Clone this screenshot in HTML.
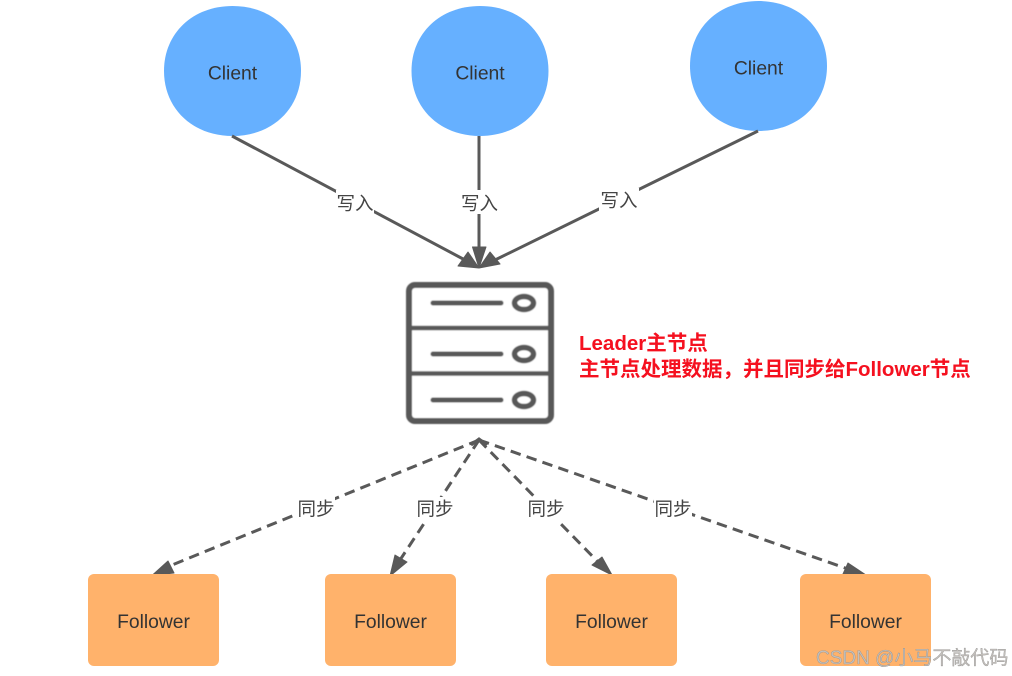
<!DOCTYPE html>
<html><head><meta charset="utf-8"><style>
html,body{margin:0;padding:0;background:#fff}
svg{display:block}
text{font-family:"Liberation Sans","Noto Sans CJK SC",sans-serif}
.n{font-size:19.300px;fill:#333;text-anchor:middle}
.l{font-size:18.500px;fill:#444;text-anchor:middle}
.r{font-size:20.500px;font-weight:bold;fill:#f5101f}
.s{stroke:#595959;stroke-width:3;fill:none}
.d{stroke:#595959;stroke-width:3;fill:none;stroke-dasharray:10.500 6.300}
.a{fill:#595959;stroke:#595959;stroke-width:1;stroke-linejoin:round}
.b{fill:#fff;stroke:none}
</style></head><body>
<svg width="1012" height="676" viewBox="0 0 1012 676" xmlns="http://www.w3.org/2000/svg">
<defs>
<path id="blob" d="M68.500 0C108 0 137 27 137 65C137 103 108 130 68.500 130C29 130 0 103 0 65C0 27 29 0 68.500 0Z" fill="#66b0ff"/>
<filter id="soft" x="-5%" y="-5%" width="110%" height="110%"><feGaussianBlur stdDeviation="0.600"/></filter>
</defs>
<use href="#blob" x="164" y="6"/><use href="#blob" x="411.500" y="6"/><use href="#blob" x="690" y="1"/>
<text class="n" x="232.500" y="79.500">Client</text><text class="n" x="480" y="79.500">Client</text><text class="n" x="758.500" y="74.500">Client</text>

<path class="s" d="M232 136L465 260M479 136V250M758 131L495 260"/>
<path class="a" d="M479 268L458 266L468 252ZM479 268L472.500 247H486ZM479 268L490 252L500 264Z"/>
<rect class="b" x="336" y="190" width="38" height="24"/><rect class="b" x="460" y="190" width="38" height="24"/><rect class="b" x="599" y="188" width="40" height="24"/>
<text class="l" x="355" y="210">写入</text><text class="l" x="479.500" y="210">写入</text><text class="l" x="619" y="207">写入</text>

<g filter="url(#soft)">
<rect x="409" y="285" width="142" height="136" rx="6" fill="#fff" stroke="#595959" stroke-width="6"/>
<path d="M409 328H551M409 373.500H551" stroke="#595959" stroke-width="4.500" fill="none"/>
<path d="M433 303H501M433 354H501M433 400H501" stroke="#595959" stroke-width="5" stroke-linecap="round" fill="none"/>
<g fill="#fff" stroke="#595959" stroke-width="5.500"><ellipse cx="524" cy="303" rx="9.500" ry="6.500"/><ellipse cx="524" cy="354" rx="9.500" ry="6.500"/><ellipse cx="524" cy="400" rx="9.500" ry="6.500"/></g>
</g>

<text class="r" x="579" y="350">Leader主节点</text>
<text class="r" x="579" y="376">主节点处理数据，并且同步给Follower节点</text>

<path class="d" d="M479 440L172 565M479 440L400 560M479 440L600 564M479 440L848 569"/>
<path class="s" d="M471 445L479 439L487 445"/>
<path class="a" d="M152 575.500L168 561L174 573ZM390 576L395 555L407 562ZM612 575L592 565L602 557ZM866 575L843 574L848 563Z"/>
<rect class="b" x="297" y="497" width="38" height="24"/><rect class="b" x="416" y="497" width="38" height="24"/><rect class="b" x="527" y="497" width="38" height="24"/><rect class="b" x="654" y="497" width="38" height="24"/>
<text class="l" x="316" y="515.500">同步</text><text class="l" x="435" y="515.500">同步</text><text class="l" x="546" y="515.500">同步</text><text class="l" x="673" y="515.500">同步</text>

<g fill="#ffb26b"><rect x="88" y="574" width="131" height="92" rx="6"/><rect x="325" y="574" width="131" height="92" rx="6"/><rect x="546" y="574" width="131" height="92" rx="6"/><rect x="800" y="574" width="131" height="92" rx="6"/></g>
<text class="n" x="153.500" y="628">Follower</text><text class="n" x="390.500" y="628">Follower</text><text class="n" x="611.500" y="628">Follower</text><text class="n" x="865.500" y="628">Follower</text>

<text x="816" y="664" style="font-size:19px" fill="#c4c0bc" stroke="#8a8a8a" stroke-width="0.300">CSDN @小马不敲代码</text>
</svg>
</body></html>
